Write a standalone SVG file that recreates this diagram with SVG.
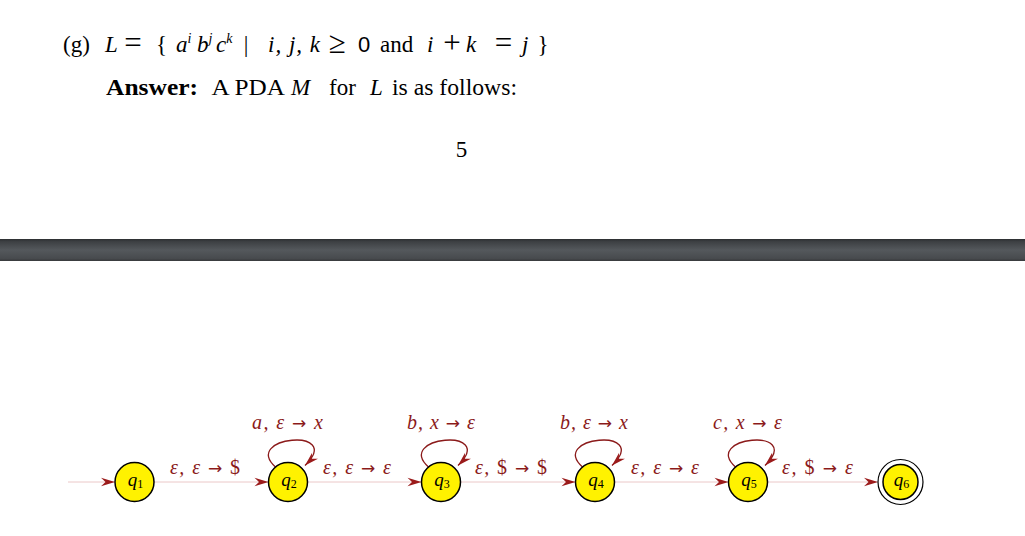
<svg xmlns="http://www.w3.org/2000/svg" width="1025" height="536" viewBox="0 0 1025 536">
<defs>
<style>
.tx{font-family:"Liberation Serif",serif;font-size:23px;fill:#000}
.it{font-style:italic}
.sup{font-size:14px;font-style:italic}
.sans{font-family:"Liberation Sans",sans-serif;font-size:22px}
.big{font-size:31px}
.lbl{font-family:"Liberation Serif",serif;font-size:20px;fill:#8b1a1a;font-style:italic}
.up{font-style:normal}
.ar{font-family:"DejaVu Sans",sans-serif;font-style:normal;font-size:17px}
.node circle{fill:#fff200;stroke:#000;stroke-width:1.5}
.node .ring{fill:none;stroke:#000;stroke-width:1.2}
.ql{font-family:"Liberation Serif",serif;font-size:19px;font-style:italic;fill:#000}
.ql tspan{font-size:12px;font-style:normal}
.edge{stroke:#ebc8c8;stroke-width:1;fill:none}
.loop{stroke:#8b1a1a;stroke-width:1.3;fill:none}
</style>
<marker id="ah" viewBox="-15 -5 16 10" refX="0" refY="0" markerWidth="16" markerHeight="10" markerUnits="userSpaceOnUse" orient="auto">
<path d="M0,0 L-14,-4.2 L-9.5,0 L-14,4.2 Z" fill="#9b1b1b"/>
</marker>
<linearGradient id="bar" x1="0" y1="0" x2="0" y2="1">
<stop offset="0" stop-color="#2c2e31"/>
<stop offset="0.12" stop-color="#3d4043"/>
<stop offset="0.5" stop-color="#54585c"/>
<stop offset="0.88" stop-color="#484b4e"/>
<stop offset="1" stop-color="#37393c"/>
</linearGradient>
</defs>
<rect width="1025" height="536" fill="#fff"/>

<g id="page-text">
<text class="tx" x="76.5" y="52" text-anchor="middle">(g)</text>
<text class="tx it" x="105" y="52">L</text>
<text class="tx big" x="133" y="53" text-anchor="middle">=</text>
<text class="tx" x="161.5" y="52" text-anchor="middle">{</text>
<text class="tx it" x="176" y="52">a<tspan class="sup" dy="-9">i</tspan></text>
<text class="tx it" x="197" y="52">b<tspan class="sup" dy="-9">j</tspan></text>
<text class="tx it" x="216" y="52">c<tspan class="sup" dy="-9">k</tspan></text>
<text class="tx" x="246" y="52" text-anchor="middle">|</text>
<text class="tx it" x="268" y="52" textLength="52" lengthAdjust="spacing">i, j, k</text>
<text class="tx big" x="337" y="53" text-anchor="middle" font-size="26">≥</text>
<text class="tx sans" x="358" y="52">0</text>
<text class="tx" x="380" y="52">and</text>
<text class="tx it" x="427" y="52">i</text>
<text class="tx big" x="452" y="53" text-anchor="middle">+</text>
<text class="tx it" x="466" y="52">k</text>
<text class="tx big" x="503.5" y="53" text-anchor="middle">=</text>
<text class="tx it" x="522" y="52">j</text>
<text class="tx" x="543" y="52" text-anchor="middle">}</text>

<text class="tx" x="106" y="95" font-weight="bold" textLength="92" lengthAdjust="spacingAndGlyphs">Answer:</text>
<text class="tx" x="211.5" y="95" textLength="73.5" lengthAdjust="spacingAndGlyphs">A PDA</text>
<text class="tx it" x="291" y="95">M</text>
<text class="tx" x="329" y="95">for</text>
<text class="tx it" x="370" y="95">L</text>
<text class="tx" x="392" y="95" textLength="125" lengthAdjust="spacingAndGlyphs">is as follows:</text>

<text class="tx" x="461.5" y="157" text-anchor="middle">5</text>
</g>

<rect x="0" y="239" width="1025" height="22" fill="url(#bar)"/>

<g id="connectors">
<line class="edge" x1="68" y1="482" x2="115" y2="482" marker-end="url(#ah)"/>
<line class="edge" x1="154" y1="482" x2="268.5" y2="482" marker-end="url(#ah)"/>
<line class="edge" x1="307.5" y1="482" x2="421.5" y2="482" marker-end="url(#ah)"/>
<line class="edge" x1="460.5" y1="482" x2="575.5" y2="482" marker-end="url(#ah)"/>
<line class="edge" x1="614.5" y1="482" x2="728.5" y2="482" marker-end="url(#ah)"/>
<line class="edge" x1="767.5" y1="482" x2="878" y2="482" marker-end="url(#ah)"/>

<path class="loop" d="M276,467.5 C240,436.5 345,426.5 305,465.5" marker-end="url(#ah)"/>
<path class="loop" d="M429,467.5 C393,436.5 498,426.5 458,465.5" marker-end="url(#ah)"/>
<path class="loop" d="M583,467.5 C547,436.5 652,426.5 612,465.5" marker-end="url(#ah)"/>
<path class="loop" d="M736,467.5 C700,436.5 805,426.5 765,465.5" marker-end="url(#ah)"/>

<text class="lbl" x="170" y="474" textLength="70" lengthAdjust="spacing">ε, ε <tspan class="ar">→</tspan> <tspan class="up">$</tspan></text>
<text class="lbl" x="323" y="474" textLength="68" lengthAdjust="spacing">ε, ε <tspan class="ar">→</tspan> ε</text>
<text class="lbl" x="475" y="474" textLength="72" lengthAdjust="spacing">ε, <tspan class="up">$</tspan> <tspan class="ar">→</tspan> <tspan class="up">$</tspan></text>
<text class="lbl" x="631" y="474" textLength="68" lengthAdjust="spacing">ε, ε <tspan class="ar">→</tspan> ε</text>
<text class="lbl" x="782" y="474" textLength="71" lengthAdjust="spacing">ε, <tspan class="up">$</tspan> <tspan class="ar">→</tspan> ε</text>

<text class="lbl" x="252" y="429" textLength="71" lengthAdjust="spacing">a, ε <tspan class="ar">→</tspan> x</text>
<text class="lbl" x="407" y="429" textLength="68" lengthAdjust="spacing">b, x <tspan class="ar">→</tspan> ε</text>
<text class="lbl" x="560" y="429" textLength="68" lengthAdjust="spacing">b, ε <tspan class="ar">→</tspan> x</text>
<text class="lbl" x="713" y="429" textLength="69" lengthAdjust="spacing">c, x <tspan class="ar">→</tspan> ε</text>
</g>

<g id="q1" class="node"><circle cx="134.5" cy="482" r="19.5"/><text class="ql" x="135.5" y="486" text-anchor="middle">q<tspan dy="2">1</tspan></text></g>
<g id="q2" class="node"><circle cx="288" cy="482" r="19.5"/><text class="ql" x="289" y="486" text-anchor="middle">q<tspan dy="2">2</tspan></text></g>
<g id="q3" class="node"><circle cx="441" cy="482" r="19.5"/><text class="ql" x="442" y="486" text-anchor="middle">q<tspan dy="2">3</tspan></text></g>
<g id="q4" class="node"><circle cx="595" cy="482" r="19.5"/><text class="ql" x="596" y="486" text-anchor="middle">q<tspan dy="2">4</tspan></text></g>
<g id="q5" class="node"><circle cx="748" cy="482" r="19.5"/><text class="ql" x="749" y="486" text-anchor="middle">q<tspan dy="2">5</tspan></text></g>
<g id="q6" class="node"><circle class="ring" cx="900.5" cy="482" r="22.5"/><circle cx="900.5" cy="482" r="17.5"/><text class="ql" x="901.5" y="486" text-anchor="middle">q<tspan dy="2">6</tspan></text></g>
</svg>
